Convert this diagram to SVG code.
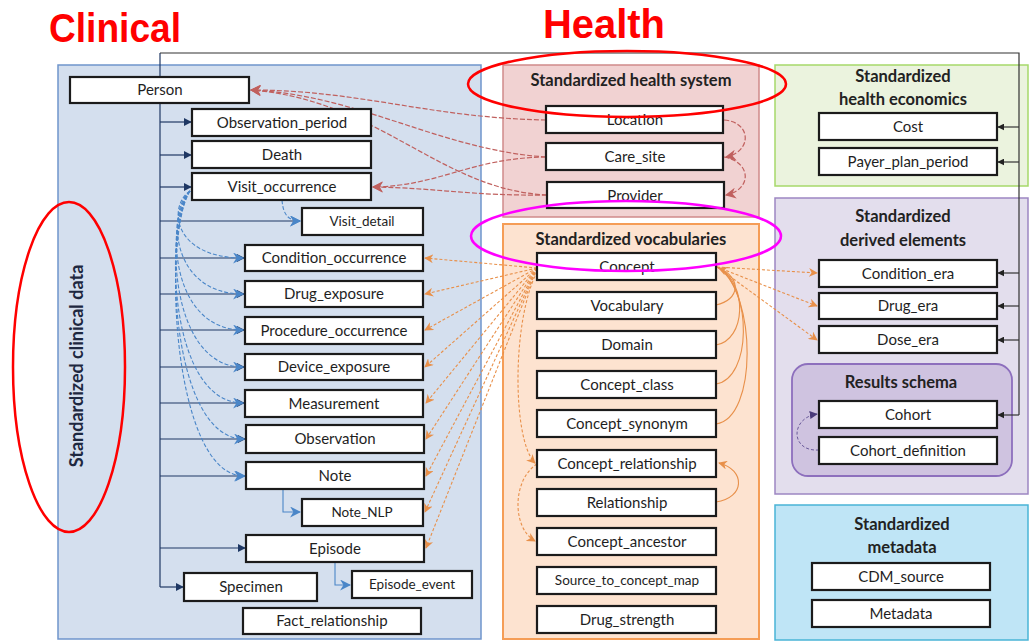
<svg xmlns="http://www.w3.org/2000/svg" width="1033" height="642" viewBox="0 0 1033 642">
<defs>
<style>
.n rect{fill:#fff;stroke:#1b1b1b;stroke-width:2.2}
.n text{font-family:Lato,"Open Sans",sans-serif;font-size:15px;fill:#1e1e1e;text-anchor:middle}
.n text.s{font-size:13.5px}
.t{font-family:Lato,"Open Sans",sans-serif;font-weight:bold;font-size:16.5px;fill:#222;text-anchor:middle}
.big{font-family:"Liberation Sans",Arial,sans-serif;font-weight:bold;font-size:40px;fill:#ff0000}
.trunk{fill:none;stroke:#1f3864;stroke-width:1.2}
.blk{fill:none;stroke:#333;stroke-width:1.2}
.red{fill:none;stroke:#c0605e;stroke-width:1.2;stroke-dasharray:5 2}
.blu{fill:none;stroke:#4a86c8;stroke-width:1.1;stroke-dasharray:4 2}
.blus{fill:none;stroke:#4a86c8;stroke-width:1.1}
.org{fill:none;stroke:#e8904a;stroke-width:1.1;stroke-dasharray:3 2}
.pur{fill:none;stroke:#6a5a9a;stroke-width:1;stroke-dasharray:3 2}
</style>
<marker id="aN" viewBox="0 0 10 10" refX="9" refY="5" markerWidth="8" markerHeight="8" markerUnits="userSpaceOnUse" orient="auto"><path d="M0,0 L10,5 L0,10 z" fill="#1f3864"/></marker>
<marker id="aK" viewBox="0 0 10 10" refX="9" refY="5" markerWidth="7" markerHeight="7" markerUnits="userSpaceOnUse" orient="auto"><path d="M0,0 L10,5 L0,10 z" fill="#222"/></marker>
<marker id="aR" viewBox="0 0 10 10" refX="9" refY="5" markerWidth="11" markerHeight="11" markerUnits="userSpaceOnUse" orient="auto"><path d="M0,0 L10,5 L0,10 L3,5 z" fill="#c0605e"/></marker>
<marker id="aB" viewBox="0 0 10 10" refX="9" refY="5" markerWidth="11" markerHeight="11" markerUnits="userSpaceOnUse" orient="auto"><path d="M0,0 L10,5 L0,10 L3,5 z" fill="#4a86c8"/></marker>
<marker id="aO" viewBox="0 0 10 10" refX="9" refY="5" markerWidth="9" markerHeight="9" markerUnits="userSpaceOnUse" orient="auto"><path d="M0,0 L10,5 L0,10 L3,5 z" fill="#e8904a"/></marker>
<marker id="aP" viewBox="0 0 10 10" refX="9" refY="5" markerWidth="8" markerHeight="8" markerUnits="userSpaceOnUse" orient="auto"><path d="M0,0 L10,5 L0,10 z" fill="#4a3a7a"/></marker>
</defs>
<rect width="1033" height="642" fill="#fff"/>

<g id="titles">
<text class="big" x="49" y="42" textLength="132" lengthAdjust="spacingAndGlyphs">Clinical</text>
<text class="big" x="543" y="38" textLength="122" lengthAdjust="spacingAndGlyphs">Health</text>
</g>

<g id="grp-clinical">
<rect x="58" y="65" width="423" height="574" fill="#d4dfee" stroke="#6f95cc" stroke-width="1.5"/>
<text class="t" transform="translate(83,366) rotate(-90)" style="font-size:18px;fill:#1e2840">Standardized clinical data</text>
</g>
<g id="grp-health-system">
<rect x="503" y="65" width="256" height="152" fill="#f1d2d2" stroke="#cf8a8a" stroke-width="1.5"/>
<text class="t" x="631" y="86">Standardized health system</text>
</g>
<g id="grp-vocab">
<rect x="503" y="224" width="256" height="415" fill="#fde3d0" stroke="#f59d56" stroke-width="2"/>
<text class="t" x="631" y="245">Standardized vocabularies</text>
</g>
<g id="grp-econ">
<rect x="775" y="65" width="253" height="121" fill="#ebf3de" stroke="#a6d96a" stroke-width="1.5"/>
<text class="t" x="903" y="82">Standardized</text>
<text class="t" x="903" y="105">health economics</text>
</g>
<g id="grp-derived">
<rect x="775" y="198" width="253" height="296" fill="#e3deed" stroke="#9d86c2" stroke-width="1.5"/>
<text class="t" x="903" y="222">Standardized</text>
<text class="t" x="903" y="246">derived elements</text>
<rect x="792" y="364" width="220" height="112" rx="16" fill="#cfc3e0" stroke="#8d6fbd" stroke-width="1.8"/>
<text class="t" x="901" y="388">Results schema</text>
</g>
<g id="grp-metadata">
<rect x="775" y="505" width="253" height="135" fill="#bfe5f6" stroke="#49b4d6" stroke-width="1.5"/>
<text class="t" x="902" y="530">Standardized</text>
<text class="t" x="902" y="553">metadata</text>
</g>

<g id="connectors">
<path class="trunk" d="M160,53 L160,587"/>
<path class="trunk" d="M160,122 L191,122" marker-end="url(#aN)"/>
<path class="trunk" d="M160,155 L191,155" marker-end="url(#aN)"/>
<path class="trunk" d="M160,187 L191,187" marker-end="url(#aN)"/>
<path class="trunk" d="M160,221 L300,221" marker-end="url(#aB)"/>
<path class="trunk" d="M160,258 L244,258" marker-end="url(#aN)"/>
<path class="trunk" d="M160,294 L244,294" marker-end="url(#aN)"/>
<path class="trunk" d="M160,330 L244,330" marker-end="url(#aN)"/>
<path class="trunk" d="M160,367 L244,367" marker-end="url(#aN)"/>
<path class="trunk" d="M160,403 L244,403" marker-end="url(#aN)"/>
<path class="trunk" d="M160,439 L245,439" marker-end="url(#aN)"/>
<path class="trunk" d="M160,476 L245,476" marker-end="url(#aB)"/>
<path class="trunk" d="M160,548 L245,548" marker-end="url(#aN)"/>
<path class="trunk" d="M160,587 L183,587" marker-end="url(#aN)"/>
<path class="blk" d="M160,53 L1019,53 L1019,415"/>
<path class="blk" d="M1019,127 L998,127" marker-end="url(#aK)"/>
<path class="blk" d="M1019,162 L998,162" marker-end="url(#aK)"/>
<path class="blk" d="M1019,273 L998,273" marker-end="url(#aK)"/>
<path class="blk" d="M1019,306 L998,306" marker-end="url(#aK)"/>
<path class="blk" d="M1019,340 L998,340" marker-end="url(#aK)"/>
<path class="blk" d="M1019,415 L998,415" marker-end="url(#aK)"/>
<path class="red" d="M546,120 C430,118 360,90 251,90" marker-end="url(#aR)"/>
<path class="red" d="M546,157 C440,150 360,95 251,90" marker-end="url(#aR)"/>
<path class="red" d="M547,195 C440,190 380,100 251,90" marker-end="url(#aR)"/>
<path class="red" d="M546,157 C470,158 440,186 373,187" marker-end="url(#aR)"/>
<path class="red" d="M547,195 C470,196 440,188 373,187" marker-end="url(#aR)"/>
<path class="red" d="M724,120 C752,122 752,152 726,157" marker-end="url(#aR)"/>
<path class="red" d="M724,157 C752,162 752,190 726,195" marker-end="url(#aR)"/>
<path class="blu" d="M190,191 C168,205 172,258 243,258" marker-end="url(#aB)"/>
<path class="blu" d="M190,191 C167,210 170,294 243,294" marker-end="url(#aB)"/>
<path class="blu" d="M190,191 C166,215 168,330 243,330" marker-end="url(#aB)"/>
<path class="blu" d="M190,191 C165,220 168,367 243,367" marker-end="url(#aB)"/>
<path class="blu" d="M190,191 C164,225 168,403 243,403" marker-end="url(#aB)"/>
<path class="blu" d="M190,191 C163,230 170,439 244,439" marker-end="url(#aB)"/>
<path class="blu" d="M190,191 C162,235 172,476 244,476" marker-end="url(#aB)"/>
<path class="blu" d="M282,200 C283,214 288,221 300,221" marker-end="url(#aB)"/>
<path class="blus" d="M283,489 L283,512 L300,512" marker-end="url(#aB)"/>
<path class="blus" d="M335,562 L335,585 L350,585" marker-end="url(#aB)"/>
<path class="org" d="M537,268 L425,258" marker-end="url(#aO)"/>
<path class="org" d="M537,268 L425,294" marker-end="url(#aO)"/>
<path class="org" d="M537,268 L425,330" marker-end="url(#aO)"/>
<path class="org" d="M537,268 L425,367" marker-end="url(#aO)"/>
<path class="org" d="M537,268 L426,403" marker-end="url(#aO)"/>
<path class="org" d="M537,268 L426,439" marker-end="url(#aO)"/>
<path class="org" d="M537,268 L426,476" marker-end="url(#aO)"/>
<path class="org" d="M537,268 L425,512" marker-end="url(#aO)"/>
<path class="org" d="M537,268 L426,548" marker-end="url(#aO)"/>
<path class="org" d="M717,267 L817,273" marker-end="url(#aO)"/>
<path class="org" d="M717,267 L817,306" marker-end="url(#aO)"/>
<path class="org" d="M717,267 L817,340" marker-end="url(#aO)"/>
<path class="org" d="M716,305 C740,300 742,278 719,268" marker-end="url(#aO)" style="stroke-dasharray:none"/>
<path class="org" d="M716,345 C746,340 748,284 719,268" style="stroke-dasharray:none"/>
<path class="org" d="M716,384 C752,378 752,290 719,268" style="stroke-dasharray:none"/>
<path class="org" d="M716,424 C758,418 756,294 719,268" style="stroke-dasharray:none"/>
<path class="org" d="M537,272 C512,320 512,440 535,463" marker-end="url(#aO)"/>
<path class="org" d="M537,464 C512,480 512,528 535,541" marker-end="url(#aO)"/>
<path class="org" d="M716,502 C745,498 746,470 719,463" marker-end="url(#aO)" style="stroke-dasharray:none"/>
<path class="pur" d="M819,450 C790,452 790,418 817,414" marker-end="url(#aP)"/>
</g>

<g id="n-person" class="n"><rect x="70" y="77" width="179" height="26"/><text x="160" y="95">Person</text></g>
<g id="n-observation-period" class="n"><rect x="192" y="109" width="179" height="27"/><text x="282" y="128">Observation_period</text></g>
<g id="n-death" class="n"><rect x="192" y="141" width="179" height="27"/><text x="282" y="160">Death</text></g>
<g id="n-visit-occurrence" class="n"><rect x="192" y="173" width="179" height="27"/><text x="282" y="192">Visit_occurrence</text></g>
<g id="n-visit-detail" class="n"><rect x="302" y="208" width="121" height="27"/><text class="s" x="362" y="226">Visit_detail</text></g>
<g id="n-condition-occurrence" class="n"><rect x="245" y="245" width="178" height="26"/><text x="334" y="263">Condition_occurrence</text></g>
<g id="n-drug-exposure" class="n"><rect x="245" y="281" width="178" height="26"/><text x="334" y="299">Drug_exposure</text></g>
<g id="n-procedure-occurrence" class="n"><rect x="245" y="317" width="178" height="27"/><text x="334" y="336">Procedure_occurrence</text></g>
<g id="n-device-exposure" class="n"><rect x="245" y="354" width="178" height="26"/><text x="334" y="372">Device_exposure</text></g>
<g id="n-measurement" class="n"><rect x="245" y="390" width="178" height="27"/><text x="334" y="409">Measurement</text></g>
<g id="n-observation" class="n"><rect x="246" y="425" width="178" height="28"/><text x="335" y="444">Observation</text></g>
<g id="n-note" class="n"><rect x="246" y="462" width="178" height="27"/><text x="335" y="481">Note</text></g>
<g id="n-note-nlp" class="n"><rect x="302" y="499" width="121" height="27"/><text class="s" x="362" y="517">Note_NLP</text></g>
<g id="n-episode" class="n"><rect x="246" y="535" width="178" height="27"/><text x="335" y="554">Episode</text></g>
<g id="n-specimen" class="n"><rect x="184" y="573" width="133" height="28"/><text x="251" y="592">Specimen</text></g>
<g id="n-episode-event" class="n"><rect x="352" y="571" width="120" height="27"/><text class="s" x="412" y="589">Episode_event</text></g>
<g id="n-fact-relationship" class="n"><rect x="243" y="608" width="178" height="26"/><text x="332" y="626">Fact_relationship</text></g>

<g id="n-location" class="n"><rect x="546" y="106" width="177" height="27"/><text x="635" y="125">Location</text></g>
<g id="n-care-site" class="n"><rect x="546" y="143" width="177" height="27"/><text x="635" y="162">Care_site</text></g>
<g id="n-provider" class="n"><rect x="547" y="182" width="177" height="26"/><text x="635" y="201">Provider</text></g>

<g id="n-concept" class="n"><rect x="537" y="253" width="179" height="27"/><text x="627" y="272">Concept</text></g>
<g id="n-vocabulary" class="n"><rect x="537" y="292" width="179" height="27"/><text x="627" y="311">Vocabulary</text></g>
<g id="n-domain" class="n"><rect x="537" y="331" width="179" height="27"/><text x="627" y="350">Domain</text></g>
<g id="n-concept-class" class="n"><rect x="537" y="371" width="179" height="27"/><text x="627" y="390">Concept_class</text></g>
<g id="n-concept-synonym" class="n"><rect x="537" y="410" width="179" height="27"/><text x="627" y="429">Concept_synonym</text></g>
<g id="n-concept-relationship" class="n"><rect x="537" y="450" width="179" height="27"/><text x="627" y="469">Concept_relationship</text></g>
<g id="n-relationship" class="n"><rect x="537" y="489" width="179" height="27"/><text x="627" y="508">Relationship</text></g>
<g id="n-concept-ancestor" class="n"><rect x="537" y="528" width="179" height="27"/><text x="627" y="547">Concept_ancestor</text></g>
<g id="n-source-to-concept-map" class="n"><rect x="537" y="567" width="179" height="27"/><text class="s" x="627" y="585">Source_to_concept_map</text></g>
<g id="n-drug-strength" class="n"><rect x="537" y="606" width="179" height="27"/><text x="627" y="625">Drug_strength</text></g>

<g id="n-cost" class="n"><rect x="819" y="113" width="178" height="27"/><text x="908" y="132">Cost</text></g>
<g id="n-payer-plan-period" class="n"><rect x="819" y="148" width="178" height="27"/><text x="908" y="167">Payer_plan_period</text></g>
<g id="n-condition-era" class="n"><rect x="819" y="260" width="178" height="27"/><text x="908" y="279">Condition_era</text></g>
<g id="n-drug-era" class="n"><rect x="819" y="293" width="178" height="26"/><text x="908" y="311">Drug_era</text></g>
<g id="n-dose-era" class="n"><rect x="819" y="326" width="178" height="27"/><text x="908" y="345">Dose_era</text></g>
<g id="n-cohort" class="n"><rect x="819" y="401" width="178" height="27"/><text x="908" y="420">Cohort</text></g>
<g id="n-cohort-definition" class="n"><rect x="819" y="437" width="178" height="27"/><text x="908" y="456">Cohort_definition</text></g>
<g id="n-cdm-source" class="n"><rect x="812" y="563" width="178" height="27"/><text x="901" y="582">CDM_source</text></g>
<g id="n-metadata" class="n"><rect x="812" y="600" width="178" height="27"/><text x="901" y="619">Metadata</text></g>

<g id="highlights" fill="none">
<ellipse cx="69" cy="367" rx="56" ry="165" stroke="#ff0000" stroke-width="2.5"/>
<ellipse cx="627" cy="84" rx="159" ry="33" stroke="#ff0000" stroke-width="2.5"/>
<ellipse cx="626" cy="236" rx="155" ry="35" stroke="#ff00ff" stroke-width="2.5"/>
</g>
</svg>
